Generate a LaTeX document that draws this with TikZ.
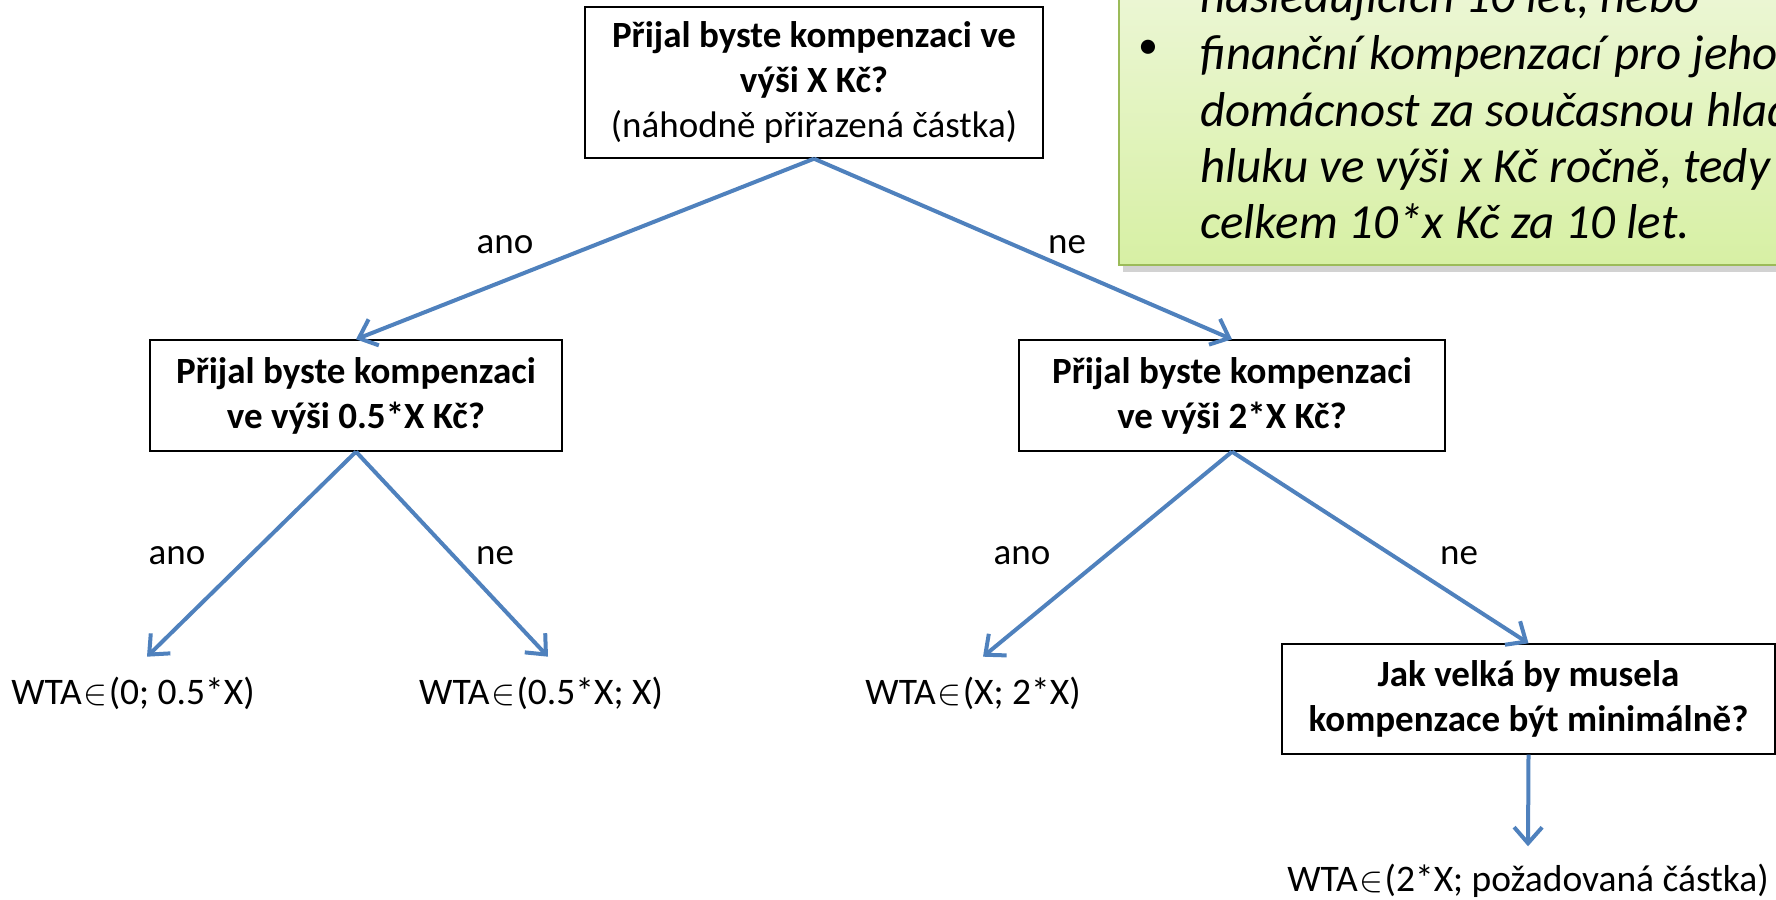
\documentclass[tikz,border=0pt]{standalone}
\usepackage{fontspec}
\setmainfont{Carlito}
\usetikzlibrary{arrows.meta}
\definecolor{arrowblue}{HTML}{4F81BD}
\definecolor{notegreen}{HTML}{9BBB59}
\definecolor{notetop}{HTML}{EEF7DA}
\definecolor{notebot}{HTML}{D7F0A4}
\newcommand{\elemof}{\kern2pt\scalebox{3.6}{\fontsize{10}{12}\selectfont$\in$}\kern1pt}
\begin{document}
\begin{tikzpicture}[x=1pt,y=-1pt,
  qbox/.style={draw=black, line width=1.4pt, fill=white, align=center, inner sep=0pt,
    font=\fontsize{37}{45}\selectfont},
  leaf/.style={inner sep=0pt, outer sep=0pt, font=\fontsize{37.5}{45}\selectfont},
  lbl/.style={inner sep=0pt, font=\fontsize{37}{45}\selectfont},
  conn/.style={draw=arrowblue, line width=4pt,
    -{Straight Barb[length=16pt, width=28pt, line width=4pt]}},
  notetext/.style={anchor=base west, inner sep=0pt, font=\fontsize{49}{57}\selectfont\itshape}
]
\useasboundingbox (0,0) rectangle (1776,899);

% green note box (clipped at the picture's edges)
\begin{scope}
\clip (0,0) rectangle (1776,899);
\fill[black!35, opacity=0.5] (1123,-40) rectangle (1810,272);
\shade[top color=notetop, bottom color=notebot, draw=notegreen, line width=2.5pt]
  (1119,-40) rectangle (1810,265);
\node[notetext] (n0) at (1200,13) {následujících 10 let, nebo};
\node[anchor=center, inner sep=0pt, font=\fontsize{40}{57}\selectfont] (bul) at (1148,49) {•};
\node[notetext] (n1) at (1200,70) {finanční kompenzací pro jeho};
\node[notetext] (n2) at (1200,126) {domácnost za současnou hladinu};
\node[notetext] (n3) at (1200,182) {hluku ve výši x Kč ročně, tedy};
\node[notetext] (n4) at (1200,238) {celkem 10*x Kč za 10 let.};
\end{scope}

% question boxes
\node[qbox, minimum width=458pt, minimum height=151pt] (top) at (814,82.5)
  {\textbf{Přijal byste kompenzaci ve}\\ \textbf{výši X Kč?}\\ (náhodně přiřazená částka)};
\node[qbox, minimum width=412pt, minimum height=111pt] (L) at (356,395.5)
  {\textbf{Přijal byste kompenzaci}\\ \textbf{ve výši 0.5*X Kč?}};
\node[qbox, minimum width=426pt, minimum height=111pt] (R) at (1232,395.5)
  {\textbf{Přijal byste kompenzaci}\\ \textbf{ve výši 2*X Kč?}};
\node[qbox, minimum width=493pt, minimum height=110pt] (BR) at (1528.5,699)
  {\textbf{Jak velká by musela}\\ \textbf{kompenzace být minimálně?}};

% leaves
\node[leaf] (l1) at (133,693) {WTA\elemof(0; 0.5*X)};
\node[leaf] (l2) at (541,693) {WTA\elemof(0.5*X; X)};
\node[leaf] (l3) at (973,693) {WTA\elemof(X; 2*X)};
\node[leaf] (l4) at (1528,881) {WTA\elemof(2*X; požadovaná částka)};

% connectors
\draw[conn] (top.south) -- (L.north);
\draw[conn] (top.south) -- (R.north);
\draw[conn] (L.south) -- ([xshift=14pt,yshift=20pt]l1.north);
\draw[conn] (L.south) -- ([xshift=7pt,yshift=20pt]l2.north);
\draw[conn] (R.south) -- ([xshift=10pt,yshift=20pt]l3.north);
\draw[conn] (R.south) -- (BR.north);
\draw[conn] (BR.south) -- ([yshift=18pt]l4.north);

% labels
\node[lbl] (a1) at (505,245) {ano};
\node[lbl] (b1) at (1067,245) {ne};
\node[lbl] (a2) at (177,556) {ano};
\node[lbl] (b2) at (495,556) {ne};
\node[lbl] (a3) at (1022,556) {ano};
\node[lbl] (b3) at (1459,556) {ne};
\end{tikzpicture}
\end{document}
